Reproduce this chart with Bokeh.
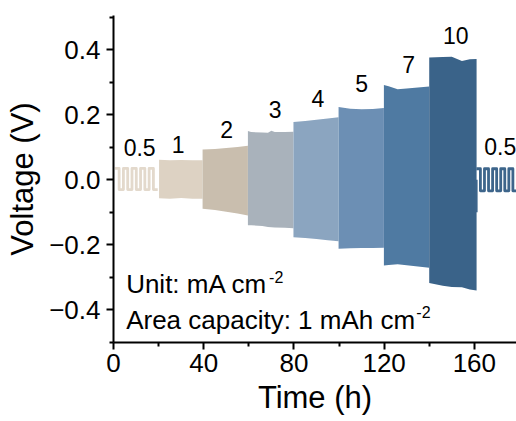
from bokeh.plotting import figure
from bokeh.models import Range1d, FixedTicker, CustomJSTickFormatter, Label
from bokeh.embed import file_html
from bokeh.resources import INLINE
from bokeh.core.properties import value

# ---- data ----
# 0.5 mA cm-2 blocks (visible square-wave cycles): half-cycle start times (h) and voltage levels (V)
t_05a = [0.6, 2.5, 4.4, 6.3, 8.2, 10.1, 12.0, 13.9, 15.8, 17.7, 19.6]
v_05a = [0.035, -0.030, 0.035, -0.030, 0.035, -0.030, 0.035, -0.030, 0.035, -0.030, -0.030]
t_05b = [160.9, 162.7, 164.5, 166.3, 168.1, 169.9, 171.7, 173.5, 175.3, 177.1, 178.9]
v_05b = [0.034, -0.034, 0.034, -0.034, 0.034, -0.034, 0.034, -0.034, 0.034, -0.034, -0.034]
t_spike = [160.9, 160.9]
v_spike = [0.0, -0.100]

# dense blocks: envelope (upper / lower voltage) along time
t_1 = [20.2, 25.0, 30.0, 35.0, 39.5]
hi_1 = [0.062, 0.060, 0.061, 0.060, 0.060]
lo_1 = [-0.057, -0.058, -0.056, -0.058, -0.058]
t_2 = [39.5, 45.0, 50.0, 55.0, 59.6]
hi_2 = [0.093, 0.095, 0.098, 0.101, 0.105]
lo_2 = [-0.089, -0.093, -0.098, -0.104, -0.110]
t_3 = [59.6, 61.0, 66.0, 68.5, 70.0, 71.5, 76.0, 79.8]
hi_3 = [0.150, 0.147, 0.146, 0.145, 0.151, 0.147, 0.147, 0.148]
lo_3 = [-0.140, -0.140, -0.142, -0.145, -0.146, -0.147, -0.148, -0.149]
t_4 = [79.8, 85.0, 90.0, 95.0, 99.8]
hi_4 = [0.178, 0.181, 0.185, 0.189, 0.193]
lo_4 = [-0.177, -0.179, -0.182, -0.186, -0.189]
t_5 = [99.8, 105.0, 110.0, 115.0, 119.9]
hi_5 = [0.224, 0.219, 0.217, 0.218, 0.221]
lo_5 = [-0.212, -0.211, -0.210, -0.210, -0.209]
t_7 = [119.9, 122.0, 126.0, 130.0, 135.0, 140.0]
hi_7 = [0.292, 0.288, 0.279, 0.281, 0.284, 0.287]
lo_7 = [-0.264, -0.262, -0.260, -0.263, -0.267, -0.271]
t_10 = [140.0, 146.0, 150.0, 154.5, 158.0, 161.0]
hi_10 = [0.377, 0.378, 0.379, 0.366, 0.371, 0.372]
lo_10 = [-0.318, -0.326, -0.330, -0.331, -0.338, -0.341]

# current density labels (mA cm-2)
seg_labels = ["0.5", "1", "2", "3", "4", "5", "7", "10", "0.5"]
label_t = [11.6, 28.7, 50.2, 71.7, 90.6, 110.0, 130.9, 151.8, 171.5]
label_v = [0.098, 0.110, 0.156, 0.217, 0.251, 0.298, 0.356, 0.443, 0.104]

x_ticks = [0, 40, 80, 120, 160]
y_ticks = [-0.4, -0.2, 0.0, 0.2, 0.4]

# ---- styling ----
c_05a = "#e3d9cc"
c_1 = "#ddd2c3"
c_2 = "#c9beae"
c_3 = "#a9b2bb"
c_4 = "#8ba5c0"
c_5 = "#6c8fb4"
c_7 = "#4f7aa2"
c_10 = "#3a6389"
c_05b = "#3d658b"
FONT = "Liberation Sans"

p = figure(width=516, height=421, output_backend="svg", toolbar_location=None,
           x_range=Range1d(0, 178.7), y_range=Range1d(-0.501, 0.506),
           min_border_left=113, min_border_right=0, min_border_top=15, min_border_bottom=79)
p.outline_line_color = None
p.xgrid.visible = False
p.ygrid.visible = False
p.background_fill_color = "white"
p.border_fill_color = "white"

blocks = [(t_1, hi_1, lo_1, c_1), (t_2, hi_2, lo_2, c_2), (t_3, hi_3, lo_3, c_3),
          (t_4, hi_4, lo_4, c_4), (t_5, hi_5, lo_5, c_5), (t_7, hi_7, lo_7, c_7),
          (t_10, hi_10, lo_10, c_10)]
for t, hi, lo, c in blocks:
    p.varea(x=t, y1=lo, y2=hi, fill_color=c)

p.step(x=t_05a, y=v_05a, mode="after", line_color=c_05a, line_width=2.8, line_join="round")
p.step(x=t_05b, y=v_05b, mode="after", line_color=c_05b, line_width=2.8, line_join="round")
p.line(x=t_spike, y=v_spike, line_color=c_05b, line_width=2.5)

p.text(x=label_t, y=label_v, text=seg_labels, text_font=value(FONT), text_font_size="23px",
       text_align="center", text_baseline="alphabetic", text_color="black")

for ax in (p.xaxis[0], p.yaxis[0]):
    ax.axis_line_width = 2
    ax.axis_line_color = "black"
    ax.major_tick_line_width = 2
    ax.minor_tick_line_width = 2
    ax.major_tick_in = 0
    ax.major_tick_out = 7
    ax.minor_tick_in = 0
    ax.minor_tick_out = 4
    ax.major_label_text_font = FONT
    ax.major_label_text_font_size = "26px"
    ax.major_label_text_color = "black"
    ax.axis_label_text_font = FONT
    ax.axis_label_text_font_size = "31px"
    ax.axis_label_text_font_style = "normal"
    ax.axis_label_text_color = "black"

p.xaxis[0].ticker = FixedTicker(ticks=x_ticks, minor_ticks=[20, 60, 100, 140, 180])
p.yaxis[0].ticker = FixedTicker(ticks=y_ticks, minor_ticks=[-0.5, -0.3, -0.1, 0.1, 0.3, 0.5])
p.yaxis[0].formatter = CustomJSTickFormatter(
    code="return (tick < -1e-9 ? '\u2212' : '') + Math.abs(tick).toFixed(1);")
p.xaxis[0].axis_label = "Time (h)"
p.yaxis[0].axis_label = "Voltage (V)"
p.xaxis[0].major_label_standoff = 4
p.yaxis[0].major_label_standoff = 6
p.xaxis[0].axis_label_standoff = 5
p.yaxis[0].axis_label_standoff = 6

ann = dict(text_font=FONT, text_color="black", text_baseline="alphabetic")
p.add_layout(Label(x=5.6, y=-0.322, text="Unit: mA cm", text_font_size="26px", **ann))
p.add_layout(Label(x=69.0, y=-0.300, text="-2", text_font_size="16px", **ann))
p.add_layout(Label(x=5.6, y=-0.433, text="Area capacity: 1 mAh cm", text_font_size="26px", **ann))
p.add_layout(Label(x=134.3, y=-0.407, text="-2", text_font_size="16px", **ann))

open("out.html", "w").write(file_html(p, INLINE))
